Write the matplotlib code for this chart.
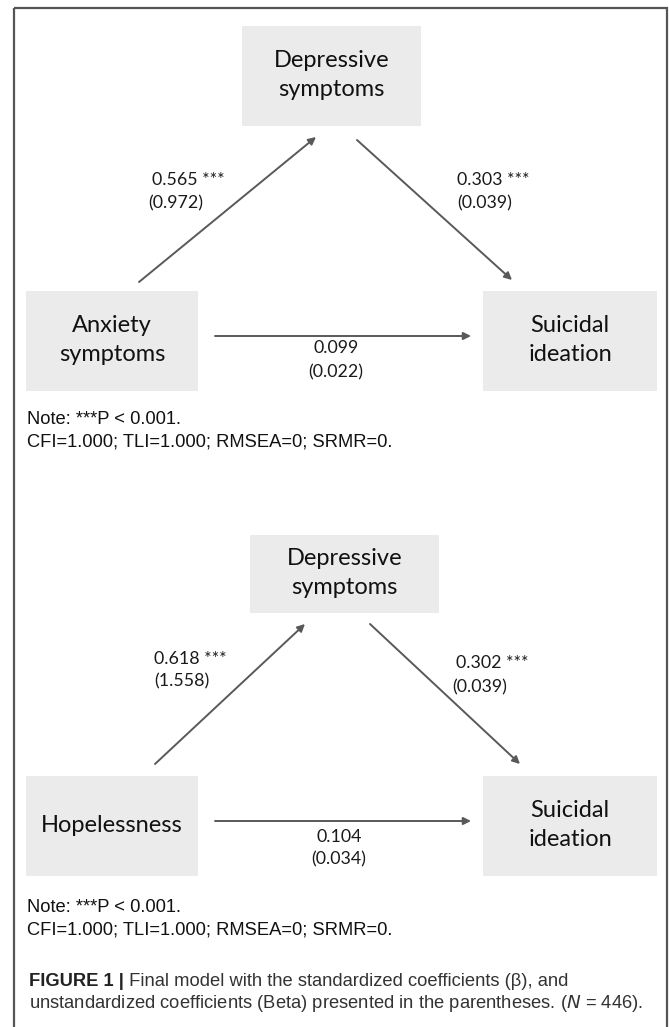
import matplotlib
matplotlib.use("Agg")
import matplotlib.pyplot as plt
from matplotlib.patches import Rectangle

# path model data (standardized beta, unstandardized B)
predictors = ["Anxiety\nsymptoms", "Hopelessness"]
mediator = "Depressive\nsymptoms"
outcome = "Suicidal\nideation"
a_std = [0.565, 0.618]
a_unstd = [0.972, 1.558]
b_std = [0.303, 0.302]
b_unstd = [0.039, 0.039]
c_std = [0.099, 0.104]
c_unstd = [0.022, 0.034]
a_sig = ["***", "***"]
b_sig = ["***", "***"]
note_lines = ["Note: ***P < 0.001.", "CFI=1.000; TLI=1.000; RMSEA=0; SRMR=0."]

W, H = 669, 1027
BOX_COLOR = "#ebebeb"
ARROW_COLOR = "#595959"
NODE_FONT = "Lato"
NOTE_FONT = "Liberation Sans"
CAP_FONT = "Liberation Sans"

# pixel layout for each panel
layouts = [
    dict(med=(242, 26, 421, 126), pred=(26, 291, 198, 391), out=(483, 291, 657, 391),
         arr_a=((139, 282), (316, 137)), arr_b=((357, 140), (512, 280)),
         arr_c=((215, 336), (471, 336)),
         lab_a=((152, 180), (148, 203)), lab_b=((457, 180), (457, 203)),
         lab_c=((336, 348), (336, 372)), note=(27, 420, 442)),
    dict(med=(250, 535, 439, 613), pred=(26, 776, 198, 876), out=(483, 776, 657, 876),
         arr_a=((155, 764), (305, 624)), arr_b=((370, 624), (520, 764)),
         arr_c=((215, 821), (471, 821)),
         lab_a=((154, 659), (154, 681)), lab_b=((456, 663), (452, 687)),
         lab_c=((339, 837), (339, 859)), note=(27, 908, 930)),
]

fig = plt.figure(figsize=(W / 100, H / 100), dpi=100)
ax = fig.add_axes([0, 0, 1, 1])
ax.set_xlim(0, W)
ax.set_ylim(H, 0)
ax.axis("off")

# outer frame
ax.add_patch(Rectangle((14, 8), 653, 1030, fill=False, edgecolor="#555555", lw=1.6))


def node(box, label):
    x0, y0, x1, y1 = box
    ax.add_patch(Rectangle((x0, y0), x1 - x0, y1 - y0, facecolor=BOX_COLOR, edgecolor="none"))
    ax.text((x0 + x1) / 2, (y0 + y1) / 2 - 1, label, ha="center", va="center",
            fontsize=17, family=NODE_FONT, color="#111111", linespacing=1.5)


def arrow(p0, p1):
    ax.annotate("", xy=p1, xytext=p0,
                arrowprops=dict(arrowstyle="-|>", color=ARROW_COLOR, lw=1.4,
                                mutation_scale=11, shrinkA=0, shrinkB=0))


for i, lay in enumerate(layouts):
    node(lay["med"], mediator)
    node(lay["pred"], predictors[i])
    node(lay["out"], outcome)
    arrow(*lay["arr_a"])
    arrow(*lay["arr_b"])
    arrow(*lay["arr_c"])

    lab_kw = dict(fontsize=12.8, family=NODE_FONT, color="#1a1a1a", va="center")
    (xa1, ya1), (xa2, ya2) = lay["lab_a"]
    ax.text(xa1, ya1, f"{a_std[i]:.3f} {a_sig[i]}", ha="left", **lab_kw)
    ax.text(xa2, ya2, f"({a_unstd[i]:.3f})", ha="left", **lab_kw)
    (xb1, yb1), (xb2, yb2) = lay["lab_b"]
    ax.text(xb1, yb1, f"{b_std[i]:.3f} {b_sig[i]}", ha="left", **lab_kw)
    ax.text(xb2, yb2, f"({b_unstd[i]:.3f})", ha="left", **lab_kw)
    (xc1, yc1), (xc2, yc2) = lay["lab_c"]
    ax.text(xc1, yc1, f"{c_std[i]:.3f}", ha="center", **lab_kw)
    ax.text(xc2, yc2, f"({c_unstd[i]:.3f})", ha="center", **lab_kw)

    nx, ny1, ny2 = lay["note"]
    ax.text(nx, ny1, note_lines[0], ha="left", va="center", fontsize=13.2,
            family=NOTE_FONT, color="#111111")
    ax.text(nx, ny2, note_lines[1], ha="left", va="center", fontsize=13.2,
            family=NOTE_FONT, color="#111111")

# caption
t = ax.text(29, 982, "FIGURE 1 |", ha="left", va="center", fontsize=13.2,
            family=CAP_FONT, weight="bold", color="#222222")
ax.annotate(" Final model with the standardized coefficients (\u03b2), and",
            xy=(1, 0.5), xycoords=t, ha="left", va="center", fontsize=13.2,
            family=CAP_FONT, color="#333333")
ax.text(29, 1003, "unstandardized coefficients (Beta) presented in the parentheses. ($N$ = 446).",
        ha="left", va="center", fontsize=13.2, family=CAP_FONT, color="#333333")

fig.savefig("out.png", dpi=100)
